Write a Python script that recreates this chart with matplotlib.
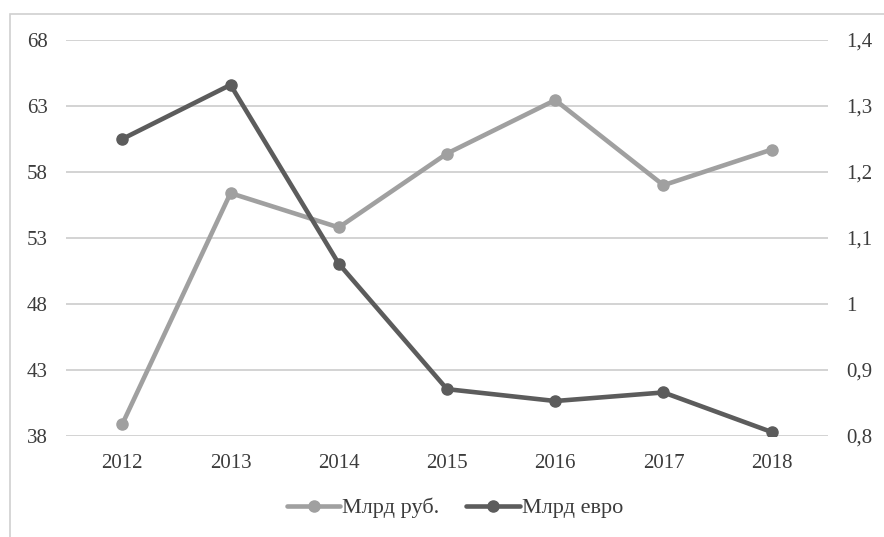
import matplotlib.pyplot as plt
from matplotlib.patches import Rectangle
from matplotlib.ticker import FuncFormatter

plt.rcParams['font.family'] = ['Liberation Serif', 'DejaVu Serif']

years = ['2012', '2013', '2014', '2015', '2016', '2017', '2018']
bln_rub = [38.9, 56.4, 53.8, 59.4, 63.45, 57.0, 59.7]
bln_eur = [1.25, 1.332, 1.061, 0.871, 0.853, 0.866, 0.806]
left_ticks = [38, 43, 48, 53, 58, 63, 68]
right_ticks = [0.8, 0.9, 1.0, 1.1, 1.2, 1.3, 1.4]

light = '#a0a0a0'
dark = '#5c5c5c'
text_col = '#3c3c3c'

W, H = 884, 537
fig = plt.figure(figsize=(W / 100, H / 100), dpi=100)

# outer chart frame (cut off at right/bottom like the reference)
fig.patches.append(Rectangle((10 / W, -0.1), 1.2, (537 - 14) / H + 0.1,
                             transform=fig.transFigure, fill=False,
                             edgecolor='#d0d0d0', linewidth=1.2))

ax = fig.add_axes([66 / W, (H - 436) / H, (828 - 66) / W, (436 - 40) / H])
ax2 = ax.twinx()

x = range(len(years))
ax.plot(x, bln_rub, color=light, lw=3.3, marker='o', ms=8, label='Млрд руб.',
        solid_capstyle='round', zorder=3)
ax2.plot(x, bln_eur, color=dark, lw=3.3, marker='o', ms=8, label='Млрд евро',
         solid_capstyle='round', zorder=3)

ax.set_xlim(-0.52, len(years) - 0.48)
ax.set_ylim(38, 68)
ax2.set_ylim(0.8, 1.4)
ax.set_yticks(left_ticks)
ax2.set_yticks(right_ticks)
ax.set_xticks(list(x))
ax.set_xticklabels(years)

ax2.yaxis.set_major_formatter(FuncFormatter(
    lambda v, p: ('%g' % round(v, 1)).replace('.', ',')))

ax.grid(axis='y', color='#d0d0d0', lw=1.3)
for a in (ax, ax2):
    for s in a.spines.values():
        s.set_visible(False)
    a.tick_params(length=0, labelsize=15, colors=text_col)
ax.tick_params(axis='y', pad=13)
ax2.tick_params(axis='y', pad=13)
ax.tick_params(axis='x', pad=13)

h1, l1 = ax.get_legend_handles_labels()
h2, l2 = ax2.get_legend_handles_labels()
fig.legend(h1 + h2, l1 + l2, loc='center', bbox_to_anchor=(455 / W, (H - 508) / H),
           ncol=2, frameon=False, fontsize=16, handlelength=2.4,
           handletextpad=0.1, columnspacing=1.2, labelcolor=text_col)

fig.savefig('out.png', dpi=100)
